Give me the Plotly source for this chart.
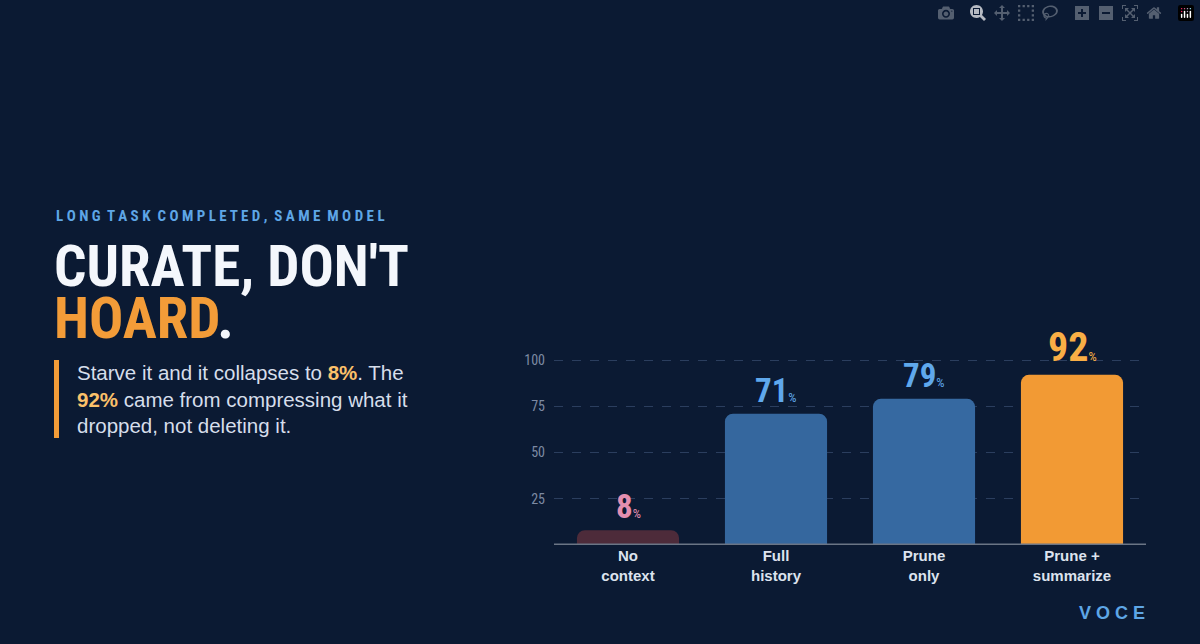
import plotly.graph_objects as go

categories = ["No<br>context", "Full<br>history", "Prune<br>only", "Prune +<br>summarize"]
values = [8, 71, 79, 92]
bar_colors = ["#4d2b3a", "#35679e", "#3669a1", "#f29a34"]
label_colors = ["#e48fb0", "#5fa8ec", "#5fa8ec", "#f9ae45"]
y_ticks = [25, 50, 75, 100]

W, H = 1200, 644
L, R, T, B = 554, 54, 330, 99
PW, PH = W - L - R, H - T - B
NARROW = "Liberation Sans Narrow, Roboto Condensed, Arial Narrow, sans-serif"


def px(x):
    return (x - L) / PW


def py(y):
    return (H - B - y) / PH


fig = go.Figure()
fig.add_trace(go.Bar(
    x=categories, y=values, width=0.69,
    marker=dict(color=bar_colors, cornerradius=8, line=dict(width=0)),
    hoverinfo="skip",
))

for c, v, col in zip(categories, values, label_colors):
    big = 40 if v == max(values) else 33
    fig.add_annotation(
        x=c, y=v, yanchor="bottom", yshift=2, showarrow=False,
        text=f"<b>{v}</b><span style='font-size:13px'>%</span>",
        font=dict(family=NARROW, size=big, color=col),
    )

fig.add_shape(type="line", xref="paper", yref="y", x0=0, x1=1, y0=0, y1=0,
              line=dict(color="#6b7585", width=3))

# left text block
fig.add_annotation(xref="paper", yref="paper", x=px(54), y=py(216), xanchor="left", yanchor="middle",
                   showarrow=False, text="<b>L O N G  T A S K  C O M P L E T E D ,  S A M E  M O D E L</b>",
                   font=dict(family=NARROW, size=15, color="#5ea6e6"))
fig.add_annotation(xref="paper", yref="paper", x=px(52), y=py(266), xanchor="left", yanchor="middle",
                   showarrow=False, text="<b>CURATE, DON'T</b>",
                   font=dict(family=NARROW, size=57, color="#f4f7fc"))
fig.add_annotation(xref="paper", yref="paper", x=px(52), y=py(318), xanchor="left", yanchor="middle",
                   showarrow=False, text="<b><span style='color:#f39c38'>HOARD</span>.</b>",
                   font=dict(family=NARROW, size=57, color="#f4f7fc"))
fig.add_annotation(xref="paper", yref="paper", x=px(75), y=py(399), xanchor="left", yanchor="middle",
                   showarrow=False, align="left",
                   text=("Starve it and it collapses to <b><span style='color:#fbc16a'>8%</span></b>. The<br>"
                         "<b><span style='color:#fbc16a'>92%</span></b> came from compressing what it<br>"
                         "dropped, not deleting it."),
                   font=dict(family="Liberation Sans, Arial, sans-serif", size=20.5, color="#d6deeb"))
fig.add_shape(type="rect", xref="paper", yref="paper", x0=px(54), x1=px(59), y0=py(360), y1=py(438),
              fillcolor="#f39c38", line=dict(width=0))

fig.add_annotation(xref="paper", yref="paper", x=px(1147), y=py(613), xanchor="right", yanchor="middle",
                   showarrow=False, text="<b>V O C E</b>",
                   font=dict(family="Liberation Sans, Arial, sans-serif", size=18, color="#5ea6e6"))

fig.update_layout(
    width=W, height=H,
    margin=dict(l=L, r=R, t=T, b=B),
    paper_bgcolor="#0b1a33", plot_bgcolor="rgba(0,0,0,0)",
    showlegend=False, bargap=0.31,
    xaxis=dict(showgrid=False, zeroline=False, showline=False, ticks="",
               tickfont=dict(family="Liberation Sans, Arial, sans-serif", size=15, color="#dde3ee")),
    yaxis=dict(range=[0, PH / 1.85], tickvals=y_ticks, showgrid=True, gridcolor="#2b3e5e",
               griddash="dash", gridwidth=1, zeroline=False, showline=False,
               tickfont=dict(family=NARROW, size=14, color="#7d8aa3"), ticklabelstandoff=8),
)
fig.update_xaxes(tickprefix="<b>", ticksuffix="</b>")

fig.write_html("out.html", post_script="document.body.style.margin='0';document.body.style.background='#0b1a33';")
